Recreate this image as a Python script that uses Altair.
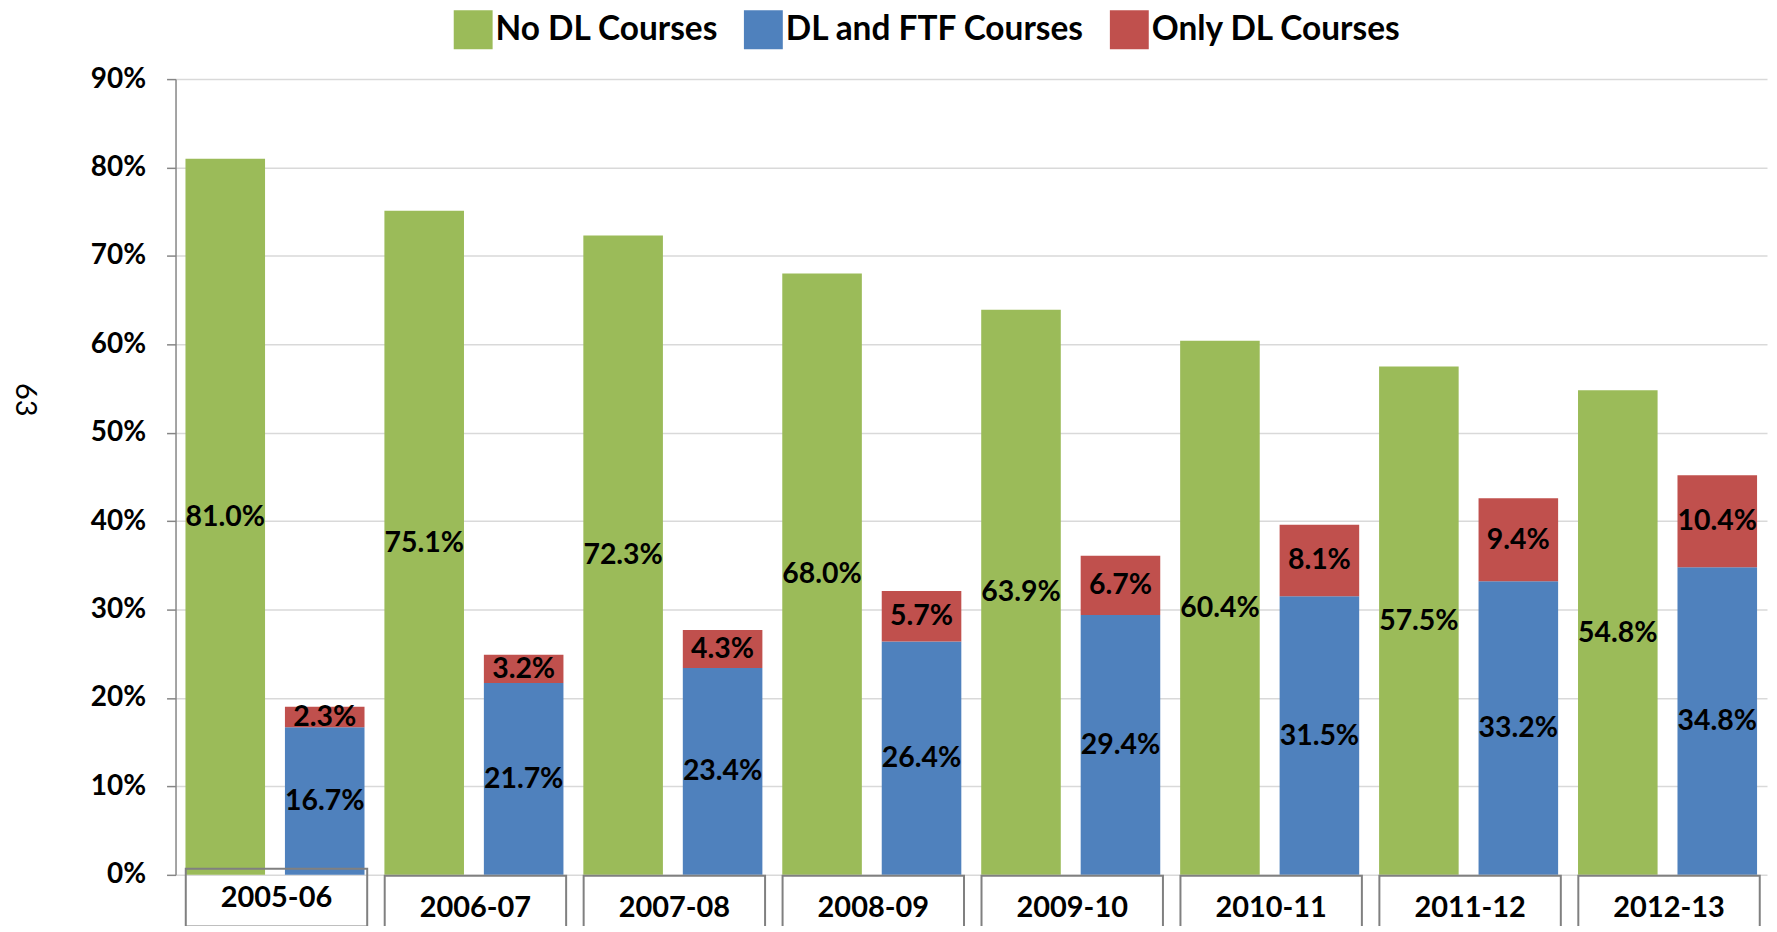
import altair as alt
import pandas as pd

years = ["2005-06", "2006-07", "2007-08", "2008-09", "2009-10", "2010-11", "2011-12", "2012-13"]
no_dl = [81.0, 75.1, 72.3, 68.0, 63.9, 60.4, 57.5, 54.8]
dl_ftf = [16.7, 21.7, 23.4, 26.4, 29.4, 31.5, 33.2, 34.8]
only_dl = [2.3, 3.2, 4.3, 5.7, 6.7, 8.1, 9.4, 10.4]
series = ["No DL Courses", "DL and FTF Courses", "Only DL Courses"]
colors = ["#9BBB59", "#4F81BD", "#C0504D"]
y_ticks = [0, 10, 20, 30, 40, 50, 60, 70, 80, 90]
page_number = "63"

rows = []
for i, yr in enumerate(years):
    rows.append(dict(year=yr, grp="A", series=series[0], start=0.0, end=no_dl[i],
                     mid=no_dl[i] / 2, label=f"{no_dl[i]:.1f}%"))
    rows.append(dict(year=yr, grp="B", series=series[1], start=0.0, end=dl_ftf[i],
                     mid=dl_ftf[i] / 2, label=f"{dl_ftf[i]:.1f}%"))
    rows.append(dict(year=yr, grp="B", series=series[2], start=dl_ftf[i], end=dl_ftf[i] + only_dl[i],
                     mid=dl_ftf[i] + only_dl[i] / 2, label=f"{only_dl[i]:.1f}%"))
df = pd.DataFrame(rows)

# category label boxes below the axis (first one is shifted up in the original)
boxes = pd.DataFrame(dict(
    year=years,
    top=[0.7] + [-0.1] * (len(years) - 1),
    bottom=[-5.85] + [-8.0] * (len(years) - 1),
    ty=[-2.6] + [-3.7] * (len(years) - 1),
))

FONT = "Lato"

xenc = alt.X("year:N", sort=years, scale=alt.Scale(paddingInner=0, paddingOuter=0), axis=None)
xoff = alt.XOffset("grp:N", sort=["A", "B"], scale=alt.Scale(paddingInner=0.2, paddingOuter=0.1))

yaxis = alt.Axis(
    values=y_ticks, labelExpr="datum.value + '%'",
    title=page_number, titleAngle=90, titleX=-151, titleY=321,
    titleFont=FONT, titleFontWeight="normal", titleFontSize=29, titleColor="black",
    titleAlign="center", titleBaseline="middle",
    labelFont=FONT, labelFontWeight="bold", labelFontSize=28, labelColor="black",
    labelPadding=21, tickSize=9, tickColor="#868686", tickWidth=1.5,
    domainColor="#868686", domainWidth=1.5,
    grid=True, gridColor="#D9D9D9", gridWidth=1.5,
)
yscale = alt.Scale(domain=[0, 90], nice=False, zero=False)

bars = alt.Chart(df).mark_bar().encode(
    x=xenc, xOffset=xoff,
    y=alt.Y("start:Q", scale=yscale, axis=yaxis),
    y2="end:Q",
    color=alt.Color("series:N", sort=series,
                    scale=alt.Scale(domain=series, range=colors),
                    legend=alt.Legend(orient="none", legendX=279, legendY=-69, direction="horizontal",
                                      title=None, symbolType="square", symbolSize=1521,
                                      symbolStrokeWidth=0, labelFont=FONT, labelFontWeight="bold",
                                      labelFontSize=33.5, labelColor="black", labelOffset=3,
                                      columnPadding=25, padding=0, labelLimit=400)),
)

labels = alt.Chart(df).mark_text(font=FONT, fontWeight="bold", fontSize=28.5, color="black",
                                 baseline="middle", align="center").encode(
    x=xenc, xOffset=xoff,
    y=alt.Y("mid:Q", scale=yscale, axis=yaxis),
    text="label:N",
)

box_rects = alt.Chart(boxes).mark_bar(fill="transparent", stroke="#808080", strokeWidth=2,
                                      width=alt.RelativeBandSize(0.912), xOffset=1.5).encode(
    x=xenc,
    y=alt.Y("top:Q", scale=yscale, axis=yaxis),
    y2="bottom:Q",
)

box_text = alt.Chart(boxes).mark_text(font=FONT, fontWeight="bold", fontSize=29, color="black",
                                      baseline="middle", align="center", dx=1.5).encode(
    x=xenc,
    y=alt.Y("ty:Q", scale=yscale, axis=yaxis),
    text="year:N",
)

chart = alt.layer(bars, box_rects, labels, box_text).properties(
    width=1596, height=798,
    autosize=alt.AutoSizeParams(type="none"),
    padding={"left": 168, "top": 70, "right": 2, "bottom": 50},
    background="white",
).configure_view(stroke=None)

chart.save("out.html", embed_options={"renderer": "svg", "actions": False})
